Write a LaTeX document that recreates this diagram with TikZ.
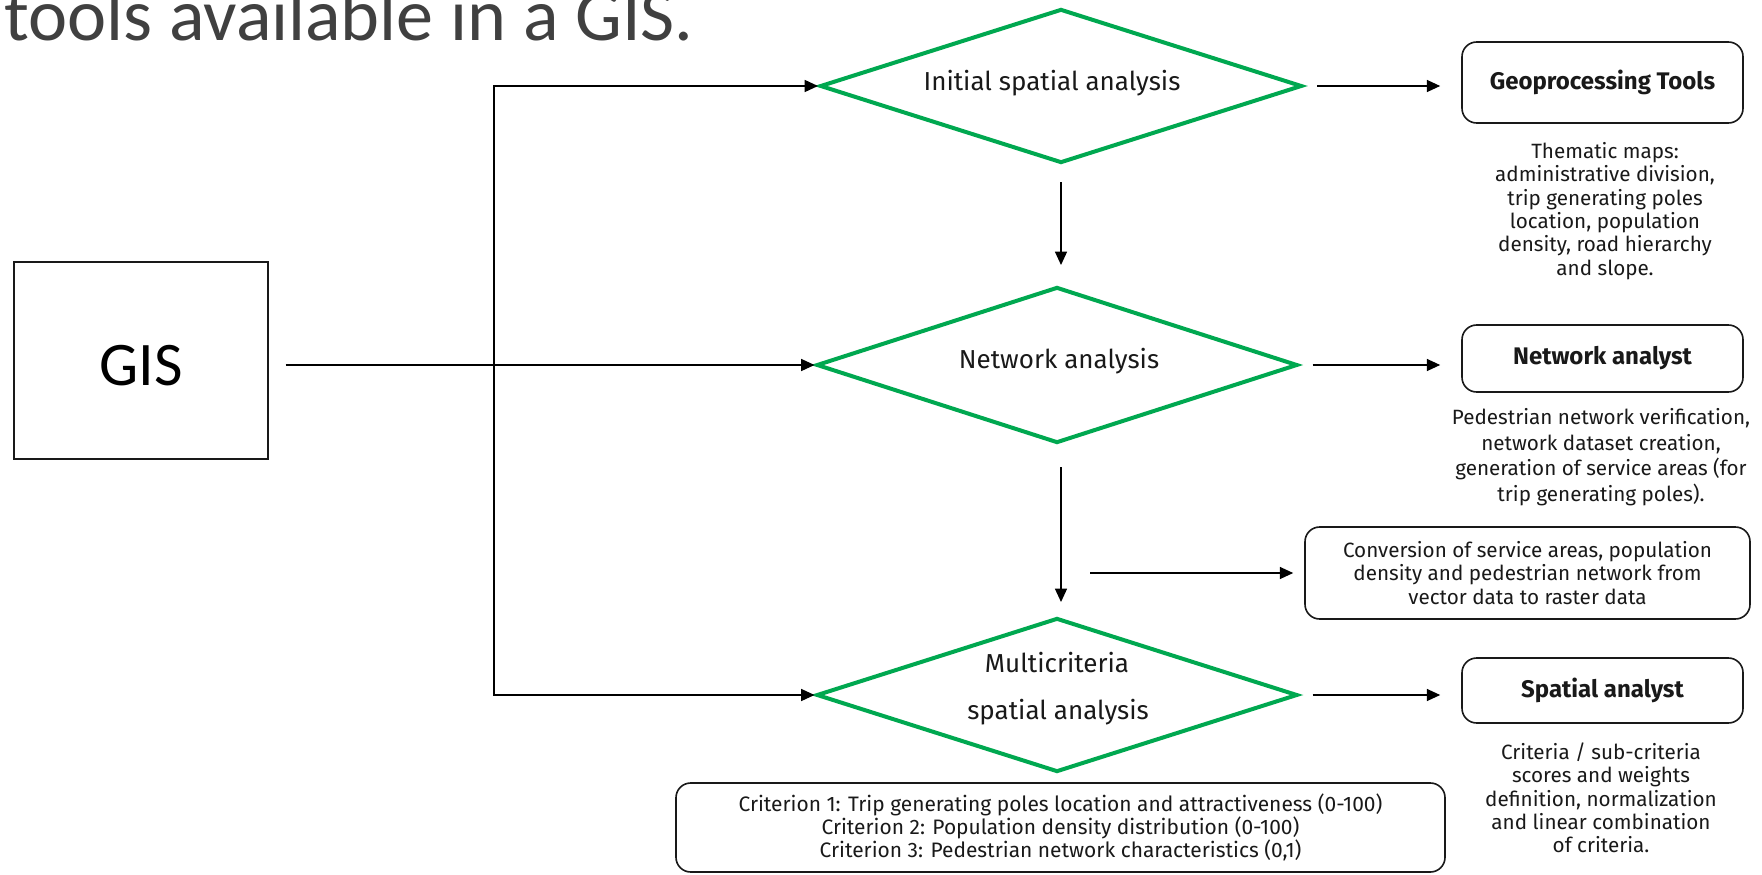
\documentclass[tikz,border=0pt]{standalone}
\usepackage{fontspec}
\setmainfont{Fira Sans}
\newfontfamily\calfont{Carlito}
\usetikzlibrary{shapes.geometric,arrows.meta,calc}
\definecolor{dgreen}{RGB}{0,168,80}
\definecolor{titlegray}{RGB}{64,64,64}
\definecolor{ink}{RGB}{25,25,25}
\newdimen\pxu \pxu=0.75pt
\begin{document}
\begin{tikzpicture}[x=0.75pt,y=-0.75pt,
  dia/.style={draw=dgreen, line width=3pt, shape=diamond, inner sep=0pt},
  dtext/.style={anchor=base, inner sep=0pt, text=ink, font=\fontsize{19.5}{24}\selectfont},
  tbox/.style={draw=ink, line width=1.2pt, rounded corners=11pt, inner sep=0pt, align=center, text=ink},
  ttl/.style={font=\bfseries\fontsize{18}{21}\selectfont},
  desc/.style={inner sep=0pt, align=center, text=ink},
  conn/.style={draw=black, line width=1pt, -{Triangle[length=10pt,width=9pt]}}
]
\clip (0,0) rectangle (1762,874);
\fill[white] (0,0) rectangle (1762,874);

% title fragment
\node[anchor=base west, inner sep=0pt, font=\calfont\fontsize{55.6}{60}\selectfont, text=titlegray] (title) at (4,41) {tools available in a GIS.};

% GIS box
\node[draw=ink, line width=1.1pt, minimum width=254\pxu, minimum height=197\pxu, inner sep=0pt] (gis) at (141,360.5) {};
\node[anchor=base, inner sep=0pt, font=\calfont\fontsize{46.5}{50}\selectfont, text=black] (gist) at (141,385) {GIS};

% diamonds
\node[dia, minimum width=482\pxu, minimum height=154\pxu] (d1) at (1061,86) {};
\node[dia, minimum width=481\pxu, minimum height=156\pxu] (d2) at (1057,365) {};
\node[dia, minimum width=481\pxu, minimum height=154\pxu] (d3) at (1057,695) {};
\node[dtext] (t1) at (1052,90) {Initial spatial analysis};
\node[dtext] (t2) at (1059,368) {Network analysis};
\node[dtext] (t3a) at (1057,672) {Multicriteria};
\node[dtext] (t3b) at (1058,719) {spatial analysis};

% right boxes
\node[tbox, ttl, minimum width=281\pxu, minimum height=81\pxu] (geo) at (1602.5,82.5) {Geoprocessing Tools};
\node[tbox, ttl, minimum width=281\pxu, minimum height=67\pxu] (net) at (1602.5,358.5) {Network analyst};
\node[tbox, ttl, minimum width=281\pxu, minimum height=65\pxu] (spa) at (1602.5,690.5) {Spatial analyst};
\node[tbox, font=\fontsize{15.5}{17.6}\selectfont, minimum width=445\pxu, minimum height=92\pxu] (conv) at (1527.5,573) {Conversion of service areas, population\\density and pedestrian network from\\vector data to raster data};
\node[tbox, font=\fontsize{15.7}{17.3}\selectfont, minimum width=769\pxu, minimum height=89\pxu] (crit) at (1060.5,827.5) {Criterion 1: Trip generating poles location and attractiveness (0-100)\\Criterion 2: Population density distribution (0-100)\\Criterion 3: Pedestrian network characteristics (0,1)};

% descriptions
\node[desc, font=\fontsize{15.5}{17.5}\selectfont] (geod) at (1605,211) {Thematic maps:\\administrative division,\\trip generating poles\\location, population\\density, road hierarchy\\and slope.};
\node[desc, font=\fontsize{15.5}{19.2}\selectfont] (netd) at (1601,457) {Pedestrian network verification,\\network dataset creation,\\generation of service areas (for\\trip generating poles).};
\node[desc, font=\fontsize{15.5}{17.5}\selectfont] (spad) at (1601,798) {Criteria / sub-criteria\\scores and weights\\definition, normalization\\and linear combination\\of criteria.};

% connectors
\coordinate (j) at (494,365);
\coordinate (cs) at (1090,573);
\draw[conn, shorten <=17\pxu] (gis.east |- d2.west) -- (d2.west);
\draw[conn] (j) |- (d1.west);
\draw[conn] (j) |- (d3.west);
\draw[conn, shorten <=17\pxu, shorten >=20\pxu] (d1.south) -- (d1.south |- d2.north);
\draw[conn, shorten <=22\pxu, shorten >=14\pxu] (d1.south |- d2.south) -- (d1.south |- d3.north);
\draw[conn, shorten <=13\pxu, shorten >=21\pxu] (d1.east) -- (d1.east -| geo.west);
\draw[conn, shorten <=13\pxu, shorten >=21\pxu] (d2.east) -- (d2.east -| net.west);
\draw[conn, shorten <=13\pxu, shorten >=21\pxu] (d3.east) -- (d3.east -| spa.west);
\draw[conn, shorten >=11\pxu] (cs) -- (conv.west);
\end{tikzpicture}
\end{document}
